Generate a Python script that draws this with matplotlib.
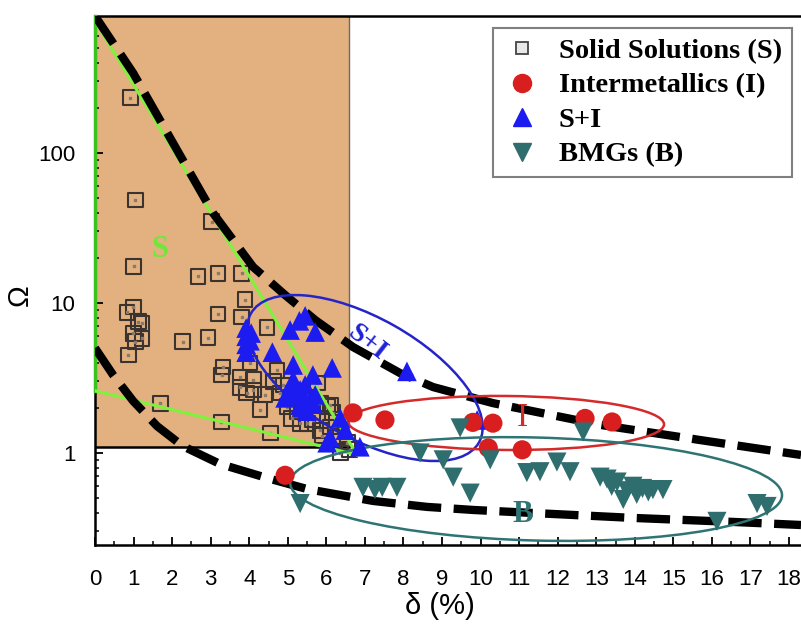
import matplotlib
matplotlib.use('Agg')
import matplotlib.pyplot as plt
from matplotlib.patches import Ellipse, Rectangle
from matplotlib.transforms import ScaledTranslation
from matplotlib.ticker import FixedLocator, MultipleLocator, FuncFormatter, LogLocator, NullFormatter
from matplotlib.lines import Line2D

# ---------------- data (delta in %, Omega) ----------------
ss_delta = [0.91, 1.04, 3.03, 1.01, 2.67, 3.19, 3.81, 3.89, 3.19, 3.81, 0.99, 0.83, 1.12, 0.99,
            1.04, 0.86, 2.28, 2.93, 3.32, 3.29, 3.76, 3.76, 4.10, 4.10, 1.69, 3.27, 4.54, 4.46,
            4.02, 4.72, 4.80, 4.98, 5.24, 5.65, 6.02, 6.17, 6.10, 6.36, 6.54, 5.84, 5.50, 5.76,
            5.84, 6.10, 5.32, 4.88, 4.41, 5.06, 5.45, 4.28, 6.36, 6.61, 1.22, 1.22, 3.94, 4.62,
            5.10, 5.90, 6.25]
ss_omega = [233, 48.6, 34.7, 17.6, 15.1, 15.8, 15.8, 10.5, 8.45, 8.07, 9.4, 8.7, 7.5, 6.3,
            5.5, 4.5, 5.5, 5.85, 3.74, 3.31, 3.21, 2.75, 3.07, 2.63, 2.15, 1.61, 1.36, 6.9,
            3.98, 3.57, 2.51, 2.03, 1.88, 1.66, 2.03, 1.85, 1.49, 1.28, 1.17, 1.42, 1.58, 2.93,
            2.15, 2.09, 1.58, 2.84, 2.44, 2.33, 2.25, 1.94, 1.00, 1.05, 7.3, 5.8, 2.51, 3.0,
            1.7, 1.3, 1.6]

im_delta = [4.93, 6.69, 7.52, 9.80, 10.32, 10.20, 11.08, 12.71, 13.41]
im_omega = [0.71, 1.85, 1.66, 1.60, 1.58, 1.08, 1.05, 1.70, 1.61]

si_delta = [3.92, 3.92, 3.92, 3.92, 4.02, 4.05, 4.60, 5.06, 5.30, 5.45, 5.71, 5.14, 5.65, 6.15,
            5.06, 5.27, 5.45, 5.58, 5.32, 5.14, 5.71, 4.93, 5.40, 5.50, 5.32, 5.65, 6.36, 6.10,
            6.02, 6.49, 6.87, 8.09, 9.91]
si_omega = [6.8, 6.0, 5.3, 4.7, 5.6, 6.3, 4.7, 6.6, 7.6, 8.2, 6.4, 3.86, 3.31, 3.69,
            2.63, 2.44, 2.84, 2.25, 2.09, 3.07, 2.44, 2.33, 2.0, 1.9, 2.63, 2.15, 1.71, 1.26,
            1.17, 1.42, 1.10, 3.5, 1.66]

bmg_delta = [5.32, 6.95, 7.26, 7.45, 7.83, 8.43, 9.03, 9.29, 9.73, 9.47, 10.25, 11.20, 11.54,
             11.98, 12.32, 12.66, 13.10, 13.28, 13.54, 13.70, 13.95, 14.20, 14.47, 14.73, 13.40,
             13.80, 14.05, 14.35, 17.17, 17.43, 16.13]
bmg_omega = [0.46, 0.59, 0.57, 0.59, 0.59, 1.00, 0.90, 0.69, 0.54, 1.47, 0.90, 0.74, 0.75,
             0.87, 0.75, 1.38, 0.69, 0.67, 0.64, 0.49, 0.60, 0.58, 0.57, 0.57, 0.60,
             0.56, 0.53, 0.55, 0.46, 0.44, 0.35]

# dashed boundary curves
upper_delta = [0, 0.99, 2.02, 3.06, 4.10, 4.93, 5.71, 6.69, 7.91, 8.77, 10.32, 13.10, 15.69, 18.31]
upper_omega = [819, 341, 117, 39.8, 17.4, 11.3, 7.7, 5.09, 3.41, 2.75, 2.15, 1.54, 1.22, 0.97]
lower_delta = [0, 0.47, 0.99, 1.61, 2.28, 3.24, 4.46, 5.50, 7.21, 8.61, 9.81, 11.36, 13.96, 16.55, 18.31]
lower_omega = [5.01, 3.31, 2.22, 1.51, 1.11, 0.845, 0.681, 0.575, 0.479, 0.437, 0.417, 0.398,
               0.369, 0.347, 0.331]

# green guide lines
green_vert_delta = [0, 0]
green_vert_omega = [819, 2.6]
green_up_delta = [0, 6.8]
green_up_omega = [760, 0.97]
green_low_delta = [0, 6.8]
green_low_omega = [2.6, 0.97]

# solid-solution criterion box
box_delta_max = 6.6
box_omega_min = 1.1

x_ticks = list(range(0, 19))
y_ticks = [1, 10, 100]
y_tick_labels = ['1', '10', '100']

# ---------------- figure ----------------
fig = plt.figure(figsize=(8.01, 6.26), dpi=100)
ax = fig.add_axes([95/801, 81/626, 706/801, 529/626])
ax.set_yscale('log')
ax.set_xlim(0, 18.31)
ax.set_ylim(0.2435, 819)

ax.add_patch(Rectangle((0, box_omega_min), box_delta_max, 819 - box_omega_min,
                       facecolor='#E3B180', edgecolor='none', zorder=1))
ax.plot([box_delta_max, box_delta_max], [box_omega_min, 819], color='#6a6a6a', lw=1.0, zorder=1.5)
ax.plot([0, box_delta_max], [box_omega_min, box_omega_min], color='black', lw=1.8, zorder=1.5)

ax.scatter(ss_delta, ss_omega, marker='s', s=115, facecolors='none', edgecolors='#3b3330',
           linewidths=1.5, zorder=3)
ax.scatter(ss_delta, ss_omega, marker='s', s=2.5, color='#8a7a6a', zorder=3)

ax.plot(green_vert_delta, green_vert_omega, color='#3cc21e', lw=2.5, zorder=4, clip_on=False)
ax.plot(green_up_delta, green_up_omega, color='#7ef23c', lw=2.2, zorder=4)
ax.plot(green_low_delta, green_low_omega, color='#7ef23c', lw=2.2, zorder=4)

ax.plot(upper_delta, upper_omega, color='black', lw=6, dashes=(4.0, 1.5), zorder=5,
        dash_capstyle='butt')
ax.plot(lower_delta, lower_omega, color='black', lw=6, dashes=(4.0, 1.5), zorder=5,
        dash_capstyle='butt')


def add_ellipse(cx, cy, w_px, h_px, ang, color):
    tr = fig.dpi_scale_trans + ScaledTranslation(cx, cy, ax.transData)
    e = Ellipse((0, 0), w_px / 100, h_px / 100, angle=ang, transform=tr,
                fill=False, edgecolor=color, lw=1.8, zorder=6)
    ax.add_patch(e)


add_ellipse(7.0, 3.16, 262, 120, -29.5, '#2424c8')
add_ellipse(10.66, 1.585, 316, 54, -0.5, '#d42a2a')
add_ellipse(11.44, 0.575, 492, 103, -1.5, '#2f7474')

ax.scatter(si_delta, si_omega, marker='^', s=200, color='#1c1cf0', edgecolors='none', zorder=7)
ax.scatter(im_delta, im_omega, marker='o', s=190, color='#d81e1e', edgecolors='none', zorder=7)
ax.scatter(bmg_delta, bmg_omega, marker='v', s=190, color='#2f6e6e', edgecolors='none', zorder=7)

serif = 'Liberation Serif'
ax.text(1.69, 22.6, 'S', color='#6ee838', fontsize=22, fontweight='bold', family=serif,
        ha='center', va='center', zorder=8)
ax.text(7.06, 5.4, 'S+I', color='#2020d8', fontsize=20, fontweight='bold', family=serif,
        ha='center', va='center', rotation=-38, zorder=8)
ax.text(11.08, 1.71, 'I', color='#d42a2a', fontsize=24, family=serif,
        ha='center', va='center', zorder=8)
ax.text(11.08, 0.386, 'B', color='#2f7474', fontsize=22, fontweight='bold', family=serif,
        ha='center', va='center', zorder=8)

# axes styling
for s in ['left', 'bottom', 'top']:
    ax.spines[s].set_linewidth(1.8)
ax.spines['right'].set_visible(False)

ax.xaxis.set_major_locator(FixedLocator(x_ticks))
ax.xaxis.set_minor_locator(MultipleLocator(0.5))
ax.yaxis.set_major_locator(FixedLocator(y_ticks))
ax.yaxis.set_major_formatter(FuncFormatter(lambda v, p: y_tick_labels[y_ticks.index(round(v))]
                                           if round(v) in y_ticks else ''))
ax.yaxis.set_minor_locator(LogLocator(base=10, subs=range(2, 10)))
ax.yaxis.set_minor_formatter(NullFormatter())
ax.tick_params(which='both', direction='in', top=False, right=False)
ax.tick_params(which='major', length=6, width=1.3, labelsize=16)
ax.tick_params(which='minor', length=3, width=1.1)
ax.tick_params(axis='x', which='major', pad=17)
ax.tick_params(axis='y', which='major', pad=14)
for lab in ax.get_xticklabels() + ax.get_yticklabels():
    lab.set_family('Liberation Sans')

ax.set_xlabel('δ (%)', fontsize=21, family='Liberation Sans')
ax.xaxis.set_label_coords(0.489, -0.089)
ax.set_ylabel('Ω', fontsize=21, family='Liberation Sans')
ax.yaxis.set_label_coords(-0.106, 0.473)
ax.yaxis.label.set_verticalalignment('center')

# legend
handles = [
    Line2D([], [], ls='none', marker='s', markersize=8, markerfacecolor='#e8e8e8',
           markeredgecolor='#444444', markeredgewidth=1.3),
    Line2D([], [], ls='none', marker='o', markersize=13, color='#d81e1e'),
    Line2D([], [], ls='none', marker='^', markersize=13, color='#1c1cf0'),
    Line2D([], [], ls='none', marker='v', markersize=13, color='#2f6e6e'),
]
labels = ['Solid Solutions (S)', 'Intermetallics (I)', 'S+I', 'BMGs (B)']
leg = ax.legend(handles, labels, loc='upper left', bbox_to_anchor=(0.564, 0.977),
                prop={'family': serif, 'weight': 'bold', 'size': 20.5},
                frameon=True, fancybox=False, edgecolor='#808080', framealpha=1,
                borderpad=0.35, handlelength=1.3, handletextpad=0.65, labelspacing=0.3,
                borderaxespad=0)
leg.get_frame().set_linewidth(1.5)
leg.set_zorder(10)

fig.savefig('out.png', dpi=100)
